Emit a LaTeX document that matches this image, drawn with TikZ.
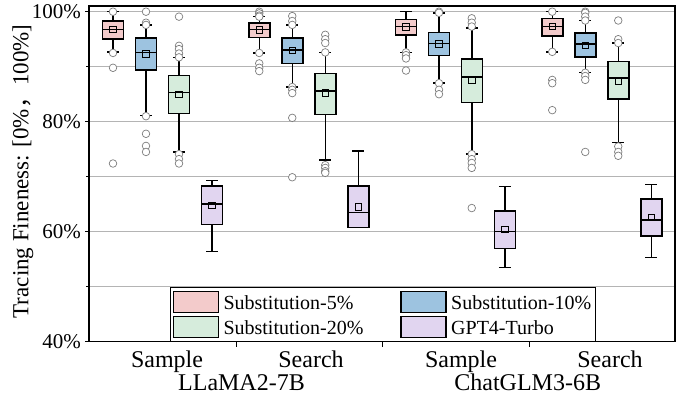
\documentclass[tikz,border=0pt]{standalone}
\usepackage{fontspec}
\setmainfont{Liberation Serif}
\newfontfamily\cjk{Noto Sans CJK SC}
\definecolor{subfive}{RGB}{243,203,203}
\definecolor{subten}{RGB}{157,195,224}
\definecolor{subtwenty}{RGB}{214,236,220}
\definecolor{gptturbo}{RGB}{225,213,240}
\definecolor{gridgray}{RGB}{180,180,180}
\definecolor{fliergray}{RGB}{125,125,125}

\begin{document}
\begin{tikzpicture}[x=1pt, y=1pt,
    declare function={py(\val)=52.3+(\val-40)*5.5;},
    boxline/.style={line width=1.5pt, black},
    meanmark/.style={line width=0.9pt, black},
    flier/.style={draw=fliergray, fill=white, line width=0.7pt},
    gridline/.style={gridgray, line width=1.1pt},
    ticklabel/.style={font=\fontsize{21}{24}\selectfont, anchor=east, inner sep=0pt},
    xlabel/.style={font=\fontsize{24}{27}\selectfont, anchor=base, inner sep=0pt}]
        \useasboundingbox (0,0) rectangle (694,394);

        % Horizontal grid every 10%
        \foreach \g in {50,60,...,100}
            \draw[gridline] (89,{py(\g)}) -- (675,{py(\g)});

        % Boxes: x / lower whisker / Q1 / median / Q3 / upper whisker / mean / colour
        \foreach \x/\wl/\qa/\md/\qb/\wh/\mn/\c in {
            113/92.7/95.0/96.8/98.3/100/96.8/subfive, 146/81.1/89.4/92.6/95.2/97.6/92.3/subten,
            179/74.5/81.5/85.3/88.4/91.7/85.0/subtwenty, 212/56.4/61.35/65.0/68.3/69.3/64.8/gptturbo,
            259.25/92.5/95.3/96.8/97.9/99.1/96.7/subfive, 292.25/86.3/90.6/93.0/95.2/97.6/92.9/subten,
            325.25/73.0/81.35/85.6/88.8/92.6/85.2/subtwenty, 358.25/60.8/60.8/63.5/68.3/74.7/64.5/gptturbo,
            406/92.6/95.8/97.3/98.6/100/97.2/subfive, 439/87.0/92.0/94.25/96.25/99.8/94.1/subten,
            471.75/74.1/83.5/88.1/91.4/97.0/87.5/subtwenty, 504.75/53.5/56.9/60.0/63.8/68.2/60.4/gptturbo,
            552.25/92.7/95.6/97.3/98.8/100/97.3/subfive, 585.25/88.9/91.8/94.1/96.1/98.4/93.9/subten,
            618.25/76.25/84.1/87.9/90.9/94.3/87.4/subtwenty, 651.25/55.35/59.2/62.1/65.9/68.6/62.6/gptturbo} {
            \draw[boxline] (\x,{py(\qb)}) -- (\x,{py(\wh)});
            \draw[boxline] (\x-5.85,{py(\wh)}) -- (\x+5.85,{py(\wh)});
            \draw[boxline] (\x,{py(\qa)}) -- (\x,{py(\wl)});
            \draw[boxline] (\x-5.85,{py(\wl)}) -- (\x+5.85,{py(\wl)});
            \draw[boxline, fill=\c] (\x-10.5,{py(\qa)}) rectangle (\x+10.5,{py(\qb)});
            \draw[boxline] (\x-10.5,{py(\md)}) -- (\x+10.5,{py(\md)});
            \draw[meanmark] (\x-3.2,{py(\mn)-3.2}) rectangle (\x+3.2,{py(\mn)+3.2});
        }

        % Outliers
        \foreach \x/\vals in {
            113/{100,92.5,89.8,72.4}, 146/{100,98.0,97.6,81.0,77.8,75.6,74.5},
            179/{99.1,93.8,93.2,92.4,91.7,74.1,73.2,72.4},
            259.25/{100,99.7,99.3,99.1,92.5,90.6,89.8,89.2}, 292.25/{99.2,98.3,97.6,86.3,85.8,85.2,80.7,69.9},
            325.25/{95.8,95.0,94.3,92.6,72.1,71.6,71.0,70.7},
            406/{92.6,92.1,91.5,89.3}, 439/{100,99.8,87.0,85.8,85.0},
            471.75/{98.8,98.0,97.3,74.1,73.2,72.5,71.6,64.3},
            552.25/{100,92.7,87.6,87.0,82.1}, 585.25/{100,99.8,99.1,98.4,88.9,88.3,87.6,74.5},
            618.25/{98.4,95.0,94.3,75.5,74.5,73.8}}
            \foreach \v in \vals
                \draw[flier] (\x,{py(\v)}) circle (3.8);

        % Legend
        \draw[line width=0.8pt, fill=white] (170,106.3) rectangle (595.7,52.3);
        \foreach \lx/\ly/\c/\lab [count=\i] in {173.3/102.3/subfive/Substitution-5\%, 401/102.3/subten/Substitution-10\%,
            173.3/77.3/subtwenty/Substitution-20\%, 401/77.3/gptturbo/GPT4-Turbo} {
            \draw[fill=\c, line width=1.2pt] (\lx,\ly) rectangle (\lx+45,\ly-21);
            \node[font=\fontsize{20}{23}\selectfont, anchor=base west, inner sep=0pt] (leg\i) at (\lx+50,\ly-18.2) {\lab};
        }

        % Axes frame and ticks
        \draw[line width=1.2pt] (89,388) rectangle (675,52.3);
        \foreach \t in {40,60,80,100} {
            \draw[line width=1pt] (85,{py(\t)}) -- (89,{py(\t)});
            \node[ticklabel] (ytick\t) at (81,{py(\t)}) {\t\%};
        }
        \foreach \t in {50,70,90}
            \draw[line width=1pt] (86,{py(\t)}) -- (89,{py(\t)});
        \foreach \s in {236,382,529}
            \draw[line width=1pt] (\s,52.3) -- (\s,47.3);

        % Category labels
        \node[xlabel] (sample1) at (167,27) {Sample};
        \node[xlabel] (search1) at (311,27) {Search};
        \node[xlabel] (sample2) at (461,27) {Sample};
        \node[xlabel] (search2) at (610,27) {Search};
        \node[xlabel] (llama) at (241.5,4) {LLaMA2-7B};
        \node[xlabel] (chatglm) at (527.7,4) {ChatGLM3-6B};

        % Y axis title
        \node[font=\fontsize{23}{26}\selectfont, rotate=90, inner sep=0pt] (ytitle) at (23,222.5)
            {Tracing Fineness: [0\%{\cjk ，}100\%]};
    \end{tikzpicture}
\end{document}
